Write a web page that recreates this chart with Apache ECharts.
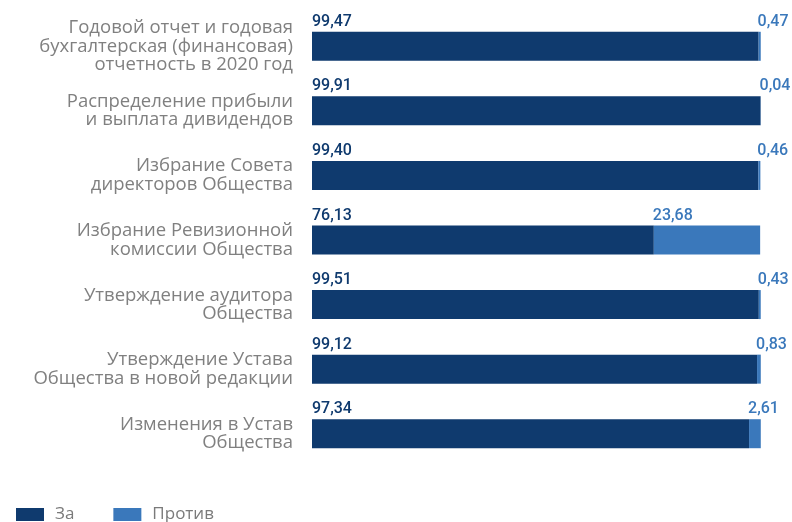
<!DOCTYPE html>
<html>
<head>
<meta charset="utf-8">
<script src="https://cdn.jsdelivr.net/npm/echarts@6/dist/echarts.min.js"></script>
<style>
  html, body { margin: 0; padding: 0; background: #fff; }
  #chart { width: 792px; height: 522px; }
</style>
</head>
<body>
<div id="chart"></div>
<script>
var categories = [
    'Годовой отчет и годовая\nбухгалтерская (финансовая)\nотчетность в 2020 год',
    'Распределение прибыли\nи выплата дивидендов',
    'Избрание Совета\nдиректоров Общества',
    'Избрание Ревизионной\nкомиссии Общества',
    'Утверждение аудитора\nОбщества',
    'Утверждение Устава\nОбщества в новой редакции',
    'Изменения в Устав\nОбщества'
];
var forValues = [99.47, 99.91, 99.40, 76.13, 99.51, 99.12, 97.34];
var againstValues = [0.47, 0.04, 0.46, 23.68, 0.43, 0.83, 2.61];

var FONT = '"Open Sans", "Noto Sans", sans-serif';
var NUM_FONT = 'Roboto, "Noto Sans", sans-serif';
var fmt = function (p) { return p.value.toFixed(2).replace('.', ','); };

var chart = echarts.init(document.getElementById('chart'));
var option = {
    animation: false,
    grid: { left: 312, width: 449, top: 14, height: 452 },
    legend: {
        left: 11,
        top: 501,
        itemWidth: 28,
        itemHeight: 13,
        itemGap: 39,
        icon: 'rect',
        textStyle: { color: '#7a7a7a', fontSize: 17, fontFamily: FONT, padding: [0, 0, 0, 6] },
        data: ['За', 'Против']
    },
    xAxis: {
        type: 'value',
        min: 0,
        max: 100,
        show: false
    },
    yAxis: {
        type: 'category',
        inverse: true,
        data: categories,
        axisLine: { show: false },
        axisTick: { show: false },
        axisLabel: {
            margin: 19,
            color: '#808080',
            fontSize: 18.5,
            lineHeight: 18.5,
            fontFamily: FONT,
            align: 'right'
        }
    },
    series: [
        {
            name: 'За',
            type: 'bar',
            stack: 'votes',
            barWidth: 29,
            itemStyle: { color: '#0f3a6e' },
            label: {
                show: true,
                position: [0, -2],
                align: 'left',
                verticalAlign: 'bottom',
                color: '#0f3a6e',
                fontSize: 16,
                fontWeight: 500,
                fontFamily: NUM_FONT,
                formatter: fmt
            },
            data: forValues
        },
        {
            name: 'Против',
            type: 'bar',
            stack: 'votes',
            barWidth: 29,
            itemStyle: { color: '#3a78bb' },
            label: {
                show: true,
                position: [-1, -2],
                align: 'left',
                verticalAlign: 'bottom',
                color: '#3a78bb',
                fontSize: 16,
                fontWeight: 500,
                fontFamily: NUM_FONT,
                formatter: fmt
            },
            data: againstValues
        }
    ]
};
chart.setOption(option);
</script>
</body>
</html>
